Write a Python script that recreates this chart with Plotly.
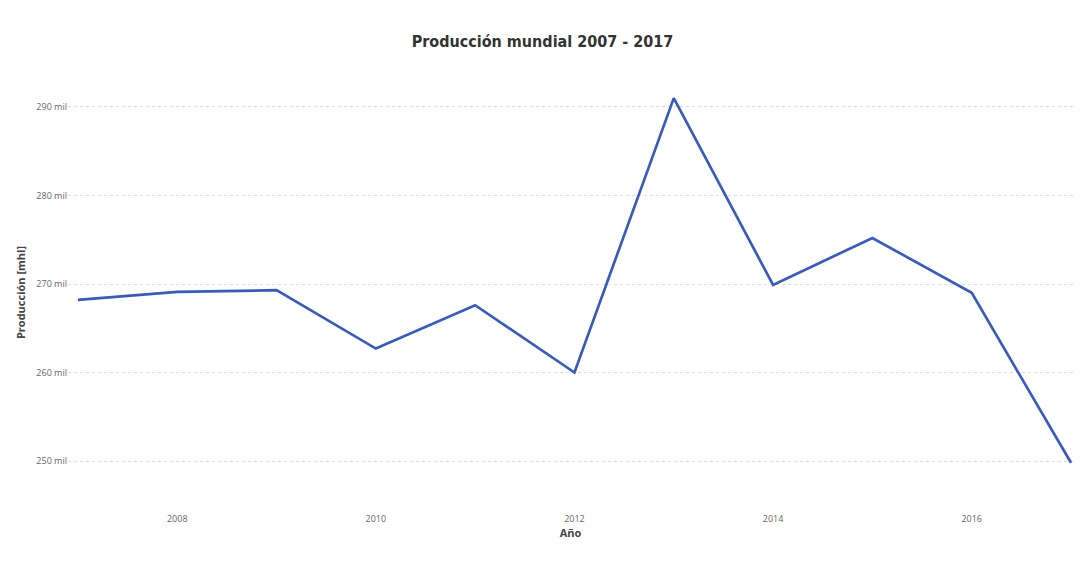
import plotly.graph_objects as go

# Producción mundial de vino (millones de hectolitros)
years = [2007, 2008, 2009, 2010, 2011, 2012, 2013, 2014, 2015, 2016, 2017]
production = [268.2, 269.1, 269.3, 262.7, 267.6, 260.0, 291.0, 269.9, 275.2, 269.0, 249.8]

y_tick_vals = [250, 260, 270, 280, 290]
y_tick_text = ["250 mil", "260 mil", "270 mil", "280 mil", "290 mil"]
x_tick_vals = [2008, 2010, 2012, 2014, 2016]

fig = go.Figure(
    go.Scatter(
        x=years,
        y=production,
        mode="lines",
        line=dict(color="#3A5BB8", width=2.7),
        hoverinfo="x+y",
    )
)

fig.update_layout(
    width=1085,
    height=573,
    paper_bgcolor="white",
    plot_bgcolor="white",
    margin=dict(l=68, r=12, t=80, b=68),
    showlegend=False,
    title=dict(
        text="<b>Producción mundial 2007 - 2017</b>",
        x=0.5,
        xanchor="center",
        y=0.927,
        yanchor="middle",
        font=dict(family="DejaVu Sans Condensed", size=16, color="#333333"),
    ),
)

fig.update_xaxes(
    range=[2006.9, 2017.02],
    tickvals=x_tick_vals,
    showgrid=False,
    zeroline=False,
    showline=False,
    ticks="outside",
    ticklen=5,
    tickcolor="rgba(0,0,0,0)",
    tickfont=dict(family="Open Sans", size=9, color="#666666"),
    title=dict(
        text="<b>Año</b>",
        font=dict(family="Open Sans", size=11, color="#444444"),
        standoff=0,
    ),
)

fig.update_yaxes(
    range=[245.03, 293.05],
    tickvals=y_tick_vals,
    ticktext=y_tick_text,
    showgrid=True,
    gridcolor="#dcdcdc",
    griddash="dot",
    gridwidth=1,
    zeroline=False,
    showline=False,
    tickfont=dict(family="Open Sans", size=9, color="#666666"),
    title=dict(
        text="<b>Producción [mhl]</b>",
        font=dict(family="Open Sans", size=11, color="#444444"),
        standoff=8,
    ),
)

fig.write_html("out.html")
